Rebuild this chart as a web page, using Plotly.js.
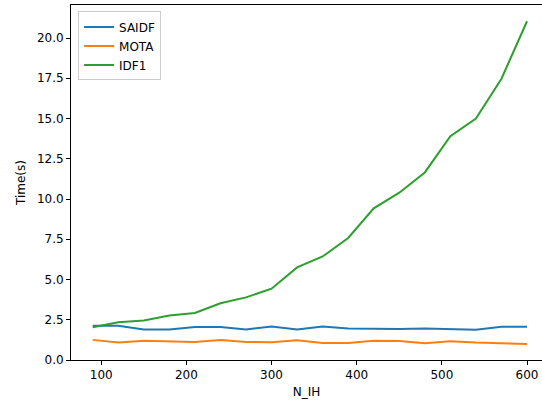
<!DOCTYPE html>
<html>
<head>
<meta charset="utf-8">
<script src="https://cdn.plot.ly/plotly-3.0.1.min.js"></script>
<style>html,body{margin:0;padding:0;background:#fff;}#chart{width:542px;height:403px;}</style>
</head>
<body>
<div id="chart"></div>
<script>
const nIH = [90, 120, 150, 180, 210, 240, 270, 300, 330, 360, 390, 420, 450, 480, 510, 540, 570, 600];
const saidf = [2.12, 2.12, 1.9, 1.9, 2.05, 2.05, 1.9, 2.08, 1.9, 2.08, 1.96, 1.94, 1.92, 1.95, 1.91, 1.88, 2.06, 2.06];
const mota = [1.25, 1.08, 1.2, 1.16, 1.12, 1.25, 1.12, 1.1, 1.23, 1.06, 1.06, 1.2, 1.18, 1.04, 1.16, 1.08, 1.02, 1.0];
const idf1 = [2.03, 2.34, 2.46, 2.76, 2.92, 3.52, 3.89, 4.43, 5.75, 6.43, 7.58, 9.42, 10.39, 11.65, 13.9, 15.0, 17.47, 21.04];
const seriesNames = ["SAIDF", "MOTA", "IDF1"];
const colors = ["#1f77b4", "#ff7f0e", "#2ca02c"];

const font = {family: "DejaVu Sans", size: 12, color: "#000"};
const traces = [saidf, mota, idf1].map((ys, i) => ({
  x: nIH, y: ys, name: seriesNames[i], type: "scatter", mode: "lines",
  line: {color: colors[i], width: 2}
}));

const layout = {
  width: 542, height: 403,
  margin: {l: 71, r: 0, t: 5, b: 43},
  paper_bgcolor: "#fff", plot_bgcolor: "#fff",
  font: font,
  showlegend: true,
  legend: {x: 0.015, y: 0.982, xanchor: "left", yanchor: "top",
    bgcolor: "rgba(255,255,255,0.8)", bordercolor: "#cccccc", borderwidth: 1,
    font: font, tracegroupgap: 0},
  xaxis: {range: [64.5, 617.6], dtick: 100, tick0: 0, showgrid: false, zeroline: false,
    showline: true, linecolor: "#000", linewidth: 1, mirror: true,
    ticks: "outside", ticklen: 4, tickcolor: "#000", tickfont: font,
    title: {text: "N_IH", font: font, standoff: 6}},
  yaxis: {range: [0, 22.05], dtick: 2.5, tick0: 0, tickformat: ".1f", showgrid: false, zeroline: false,
    showline: true, linecolor: "#000", linewidth: 1,
    ticks: "outside", ticklen: 4, tickcolor: "#000", tickfont: font,
    title: {text: "Time(s)", font: font, standoff: 8}}
};
Plotly.newPlot("chart", traces, layout, {displayModeBar: false, staticPlot: true});
</script>
</body>
</html>
